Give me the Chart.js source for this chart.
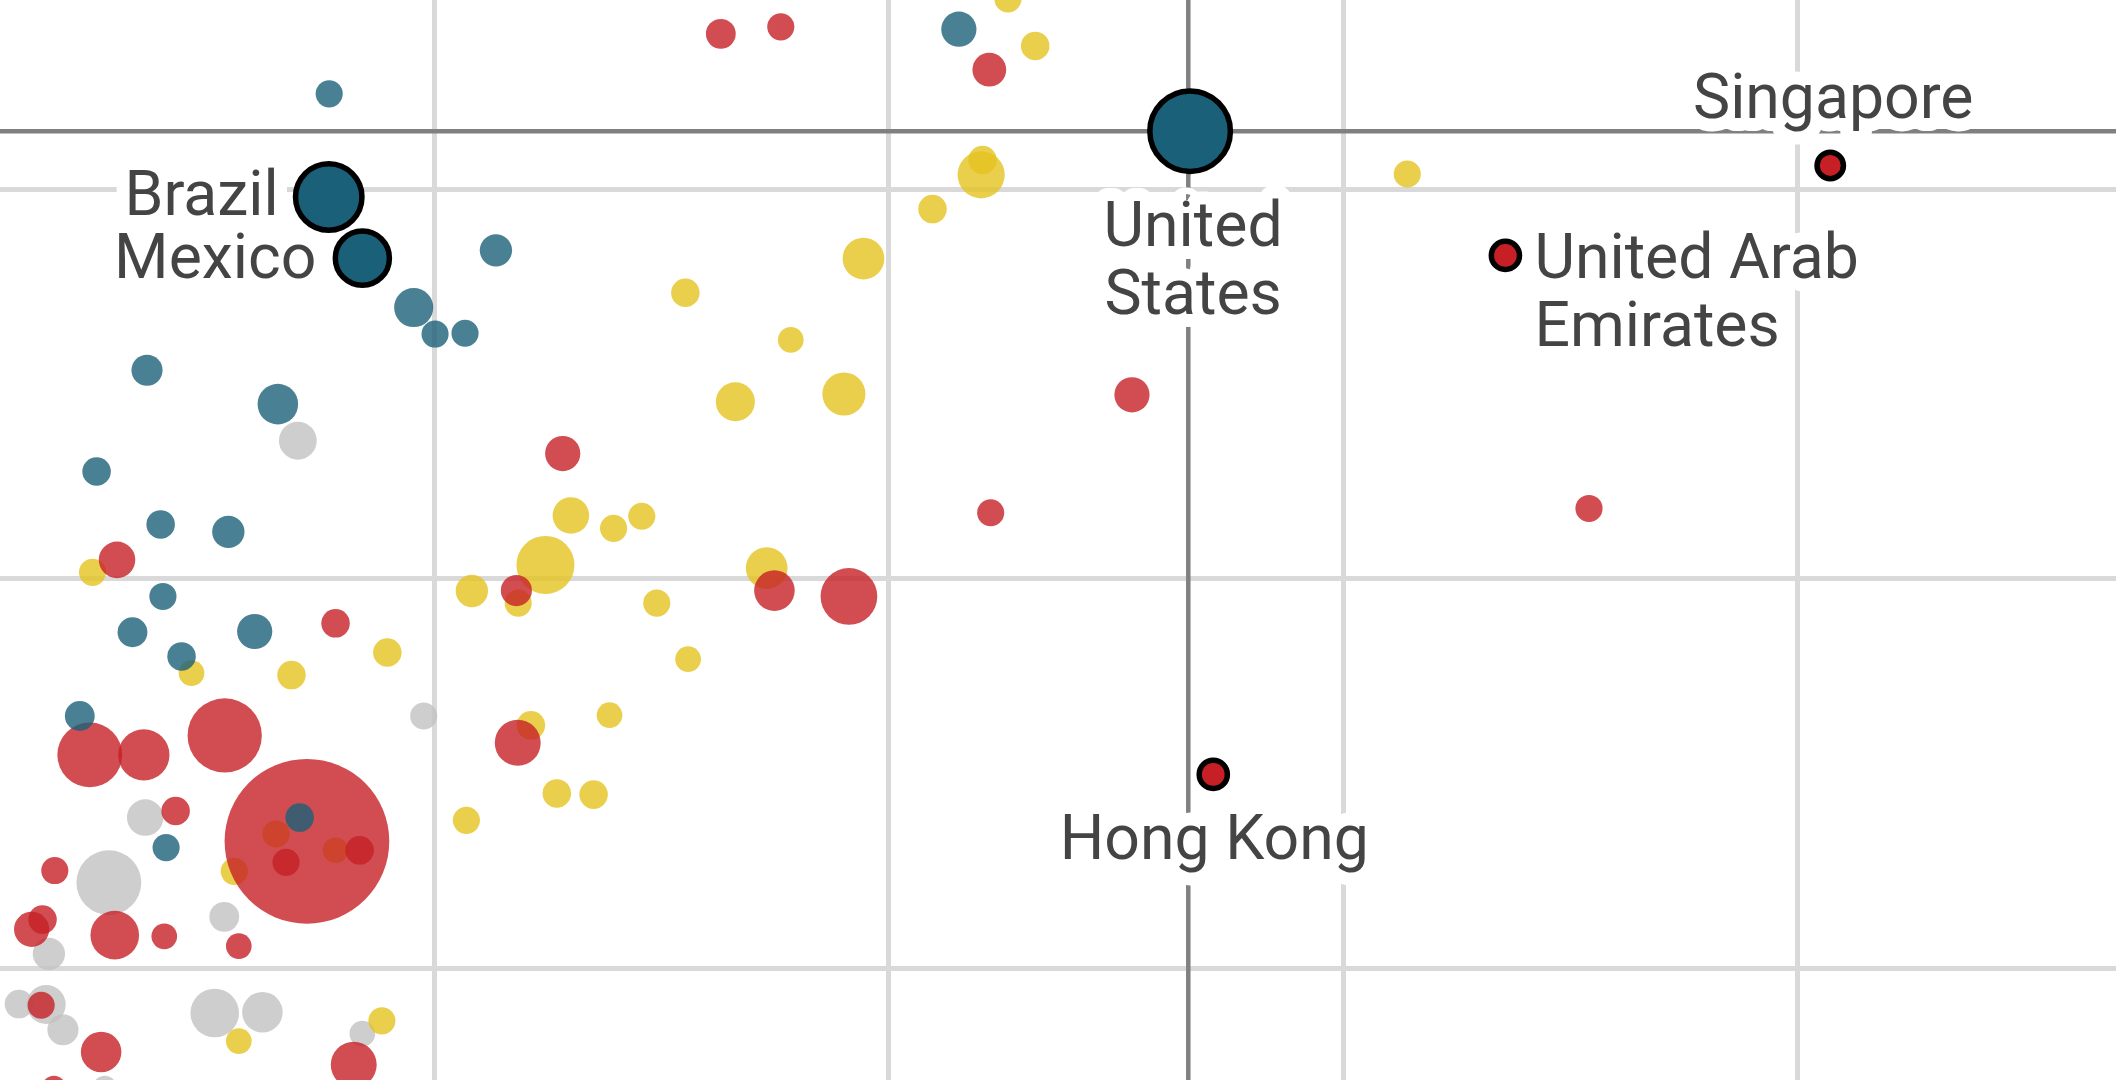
<!DOCTYPE html>
<html>
<head>
<meta charset="utf-8">
<title>Bubble chart</title>
<script src="https://cdn.jsdelivr.net/npm/chart.js@4"></script>
<style>
    html, body { margin: 0; padding: 0; background: #fff; }
    canvas { display: block; }
</style>
</head>
<body>
<canvas id="myChart" width="2116" height="1080"></canvas>
<script>
// values, population-like size for each bubble
const grayX = [69.9, 97.6, 36.3, 28.3, 53.7, 15.1, 8.5, 14.5, 18.2, 51.6, 62.1, 84.1, 27.4];
const grayY = [335.5, 264.8, 238.7, 222, 213.2, 203.7, 190.8, 190.7, 184.2, 188.5, 188.7, 183.2, 169.3];
const graySize = [74, 38, 69, 217, 46, 54, 42, 79, 50, 122, 85, 34, 30];

const yellowX = [226.2, 232.2, 220.6, 220.3, 209.6, 194.4, 155.2, 178.4, 166.2, 190.1, 130, 145.6, 139.4, 314.1, 124.4, 173.1, 24.7, 108.2, 118.4, 148.9, 155.8, 89.6, 68.5, 46.5, 121.2, 138.5, 126.9, 135, 107, 65.1, 78.2, 55.9, 88.4, 56.9];
const yellowY = [449, 436.9, 407.6, 403.8, 395, 382.3, 373.5, 361.4, 345.5, 347.5, 316.3, 316.1, 313, 404, 303.6, 302.8, 301.7, 296.9, 293.8, 293.8, 279.4, 281.1, 275.3, 275.8, 262.4, 265, 244.9, 244.6, 238, 234.5, 230.3, 224.9, 186.5, 181.3];
const yellowSize = [38, 42, 42, 115, 42, 90, 42, 34, 79, 96, 69, 38, 38, 38, 174, 90, 38, 54, 38, 38, 34, 42, 42, 34, 42, 34, 42, 42, 38, 38, 34, 38, 38, 34];

const redX = [163, 176.2, 222.1, 128.2, 222.4, 253.5, 354.1, 30.1, 78.2, 118, 174.8, 191.2, 24.1, 36, 53.8, 118.3, 71.9, 43, 67.3, 83.5, 16.4, 13.7, 11.3, 29.6, 40.5, 56.9, 13.4, 26.6, 82.2, 16.2];
const redY = [440, 441.8, 430.8, 332.2, 317, 347.3, 318.1, 304.9, 288.6, 297, 297, 295.5, 254.8, 254.8, 259.8, 257.9, 232.6, 240.4, 227.2, 230.3, 225.1, 212.5, 210, 208.5, 208.2, 205.7, 190.5, 178.5, 175.2, 169.3];
const redSize = [46, 38, 59, 64, 38, 64, 38, 69, 42, 50, 85, 166, 217, 136, 285, 109, 1401, 42, 38, 42, 38, 42, 64, 122, 34, 34, 38, 85, 109, 30];

const blueX = [215.4, 76.8, 113.5, 95.4, 100.1, 106.7, 36.7, 65.5, 25.6, 39.7, 54.6, 40.2, 33.5, 60.4, 44.3, 21.9, 70.3, 40.9];
const blueY = [441.2, 424.6, 384.4, 369.7, 362.9, 363.1, 353.6, 344.9, 327.6, 314, 312.1, 295.5, 286.3, 286.5, 280.1, 264.8, 238.7, 231];
const blueSize = [64, 38, 54, 79, 38, 38, 50, 85, 42, 42, 54, 38, 46, 64, 42, 46, 42, 38];

const namedBlueX = [266.3, 76.7, 84.1];
const namedBlueY = [415, 398.1, 382.4];
const namedBlueSize = [335, 228, 151];

const namedRedX = [407.2, 335.7, 271.4];
const namedRedY = [406.2, 383.1, 249.8];
const namedRedSize = [36, 41, 41];

const meanX = 265.9;
const meanY = 415;
const gridStep = 100;

function bubbles(xs, ys, sizes) {
    return xs.map((x, i) => ({ x: x, y: ys[i], r: 2.2 * Math.sqrt(sizes[i]) }));
}

// country names, placed around their point
const labels = [
    { lines: ['United', 'States'], x: namedBlueX[0], y: namedBlueY[0], dx: 3, dy: 115, align: 'center' },
    { lines: ['Brazil'], x: namedBlueX[1], y: namedBlueY[1], dx: -50, dy: 18, align: 'right' },
    { lines: ['Mexico'], x: namedBlueX[2], y: namedBlueY[2], dx: -46, dy: 20, align: 'right' },
    { lines: ['Singapore'], x: namedRedX[0], y: namedRedY[0], dx: 3, dy: -47, align: 'center' },
    { lines: ['United Arab', 'Emirates'], x: namedRedX[1], y: namedRedY[1], dx: 29, dy: 23, align: 'left' },
    { lines: ['Hong Kong'], x: namedRedX[2], y: namedRedY[2], dx: 1, dy: 85, align: 'center' }
];

const labelPlugin = {
    id: 'countryLabels',
    afterDatasetsDraw(chart) {
        const ctx = chart.ctx;
        ctx.save();
        ctx.font = '400 62.5px Roboto';
        ctx.textBaseline = 'alphabetic';
        ctx.lineJoin = 'round';
        labels.forEach(l => {
            const px = chart.scales.x.getPixelForValue(l.x) + l.dx;
            const py = chart.scales.y.getPixelForValue(l.y) + l.dy;
            ctx.textAlign = l.align;
            l.lines.forEach((line, i) => {
                ctx.strokeStyle = '#fff';
                ctx.lineWidth = 26;
                ctx.strokeText(line, px, py + i * 68);
            });
            ctx.fillStyle = '#444';
            l.lines.forEach((line, i) => ctx.fillText(line, px, py + i * 68));
        });
        ctx.restore();
    }
};

const config = {
    type: 'bubble',
    data: {
        datasets: [
            { data: bubbles(namedBlueX, namedBlueY, namedBlueSize), backgroundColor: '#1b6079', borderColor: '#000', borderWidth: 5.5, order: 0 },
            { data: bubbles(namedRedX, namedRedY, namedRedSize), backgroundColor: '#c62026', borderColor: '#000', borderWidth: 5.5, order: 0 },
            { data: bubbles(blueX, blueY, blueSize), backgroundColor: 'rgba(27,96,121,0.8)', borderWidth: 0, order: 1 },
            { data: bubbles(redX, redY, redSize), backgroundColor: 'rgba(198,32,38,0.8)', borderWidth: 0, order: 2 },
            { data: bubbles(yellowX, yellowY, yellowSize), backgroundColor: 'rgba(229,195,32,0.8)', borderWidth: 0, order: 3 },
            { data: bubbles(grayX, grayY, graySize), backgroundColor: 'rgba(194,194,194,0.8)', borderWidth: 0, order: 4 },
            // average lines
            { type: 'line', data: [{ x: 0, y: meanY }, { x: 500, y: meanY }], borderColor: '#808080', borderWidth: 4.5, pointRadius: 0, order: 5 },
            { type: 'line', data: [{ x: meanX, y: 100 }, { x: meanX, y: 500 }], borderColor: '#808080', borderWidth: 4.5, pointRadius: 0, order: 5 }
        ]
    },
    options: {
        responsive: false,
        animation: false,
        layout: { padding: 0, autoPadding: false },
        plugins: {
            legend: { display: false },
            tooltip: { enabled: false }
        },
        scales: {
            x: {
                type: 'linear',
                min: 4.34,
                max: 470.1,
                border: { display: false },
                grid: { color: '#d9d9d9', lineWidth: 5, drawTicks: false },
                ticks: { display: false, stepSize: gridStep, includeBounds: false }
            },
            y: {
                type: 'linear',
                min: 171.3,
                max: 448.7,
                border: { display: false },
                grid: { color: '#d9d9d9', lineWidth: 5, drawTicks: false },
                ticks: { display: false, stepSize: gridStep, includeBounds: false }
            }
        }
    },
    plugins: [labelPlugin]
};

document.fonts.load('400 62.5px Roboto').finally(() => {
    new Chart(document.getElementById('myChart'), config);
});
</script>
</body>
</html>
